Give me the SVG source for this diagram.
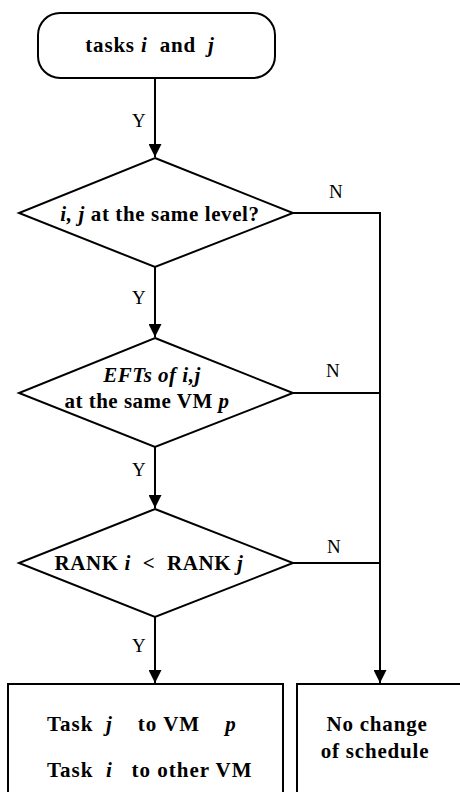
<svg xmlns="http://www.w3.org/2000/svg" width="460" height="792" viewBox="0 0 460 792">
<style>
.s{fill:#fff;stroke:#000;stroke-width:2}
.c{fill:none;stroke:#000;stroke-width:2}
.t{font-family:"Liberation Serif","Times New Roman","DejaVu Serif",serif;font-weight:bold;font-size:21px;fill:#000;white-space:pre}
.l{font-family:"Liberation Serif","Times New Roman","DejaVu Serif",serif;font-size:19px;fill:#000}
.i{font-style:italic}
</style>
<defs>
<marker id="a" viewBox="0 0 10 10" refX="10" refY="5" markerWidth="6.5" markerHeight="6.5" orient="auto" markerUnits="strokeWidth">
<path d="M0,0 L10,5 L0,10 z" fill="#000"/>
</marker>
</defs>
<g id="connectors">
<line class="c" x1="155" y1="78" x2="155" y2="157" marker-end="url(#a)"/>
<line class="c" x1="155" y1="267" x2="155" y2="337" marker-end="url(#a)"/>
<line class="c" x1="155" y1="447" x2="155" y2="508" marker-end="url(#a)"/>
<line class="c" x1="155" y1="617" x2="155" y2="683" marker-end="url(#a)"/>
<polyline class="c" points="293,213 380,213 380,683" marker-end="url(#a)"/>
<line class="c" x1="293" y1="393" x2="380" y2="393"/>
<line class="c" x1="293" y1="563" x2="380" y2="563"/>
<text class="l" x="132" y="127">Y</text>
<text class="l" x="132" y="304">Y</text>
<text class="l" x="132" y="476">Y</text>
<text class="l" x="132" y="652">Y</text>
<text class="l" x="329" y="198">N</text>
<text class="l" x="326" y="377">N</text>
<text class="l" x="327" y="553">N</text>
</g>
<g id="start">
<rect class="s" x="38" y="13" width="237" height="65" rx="22"/>
<text class="t" x="150" y="52" text-anchor="middle" letter-spacing="0.8">tasks <tspan class="i">i</tspan>  and  <tspan class="i">j</tspan></text>
</g>
<g id="d1">
<polygon class="s" points="155,158 293,213 155,267 19,213"/>
<text class="t" x="160" y="221" text-anchor="middle" letter-spacing="0.6"><tspan class="i">i, j</tspan> at the same level?</text>
</g>
<g id="d2">
<polygon class="s" points="155,338 293,393 155,447 19,393"/>
<text class="t i" x="152" y="382" text-anchor="middle" letter-spacing="0.5">EFTs of i,j</text>
<text class="t" x="147" y="408" text-anchor="middle" letter-spacing="0.5">at the same VM <tspan class="i">p</tspan></text>
</g>
<g id="d3">
<polygon class="s" points="155,509 293,563 155,617 19,563"/>
<text class="t" x="149" y="570" text-anchor="middle" letter-spacing="0.6">RANK <tspan class="i">i</tspan>  &lt;  RANK <tspan class="i">j</tspan></text>
</g>
<g id="b1">
<rect class="s" x="8" y="684" width="275" height="120"/>
<text class="t" x="47" y="731" letter-spacing="1">Task  <tspan class="i">j</tspan>    to VM    <tspan class="i">p</tspan></text>
<text class="t" x="47" y="777" letter-spacing="1">Task  <tspan class="i">i</tspan>   to other VM</text>
</g>
<g id="b2">
<rect class="s" x="297" y="684" width="175" height="120"/>
<text class="t" x="377" y="731" text-anchor="middle" letter-spacing="0.8">No change</text>
<text class="t" x="375" y="758" text-anchor="middle" letter-spacing="0.8">of schedule</text>
</g>
</svg>
